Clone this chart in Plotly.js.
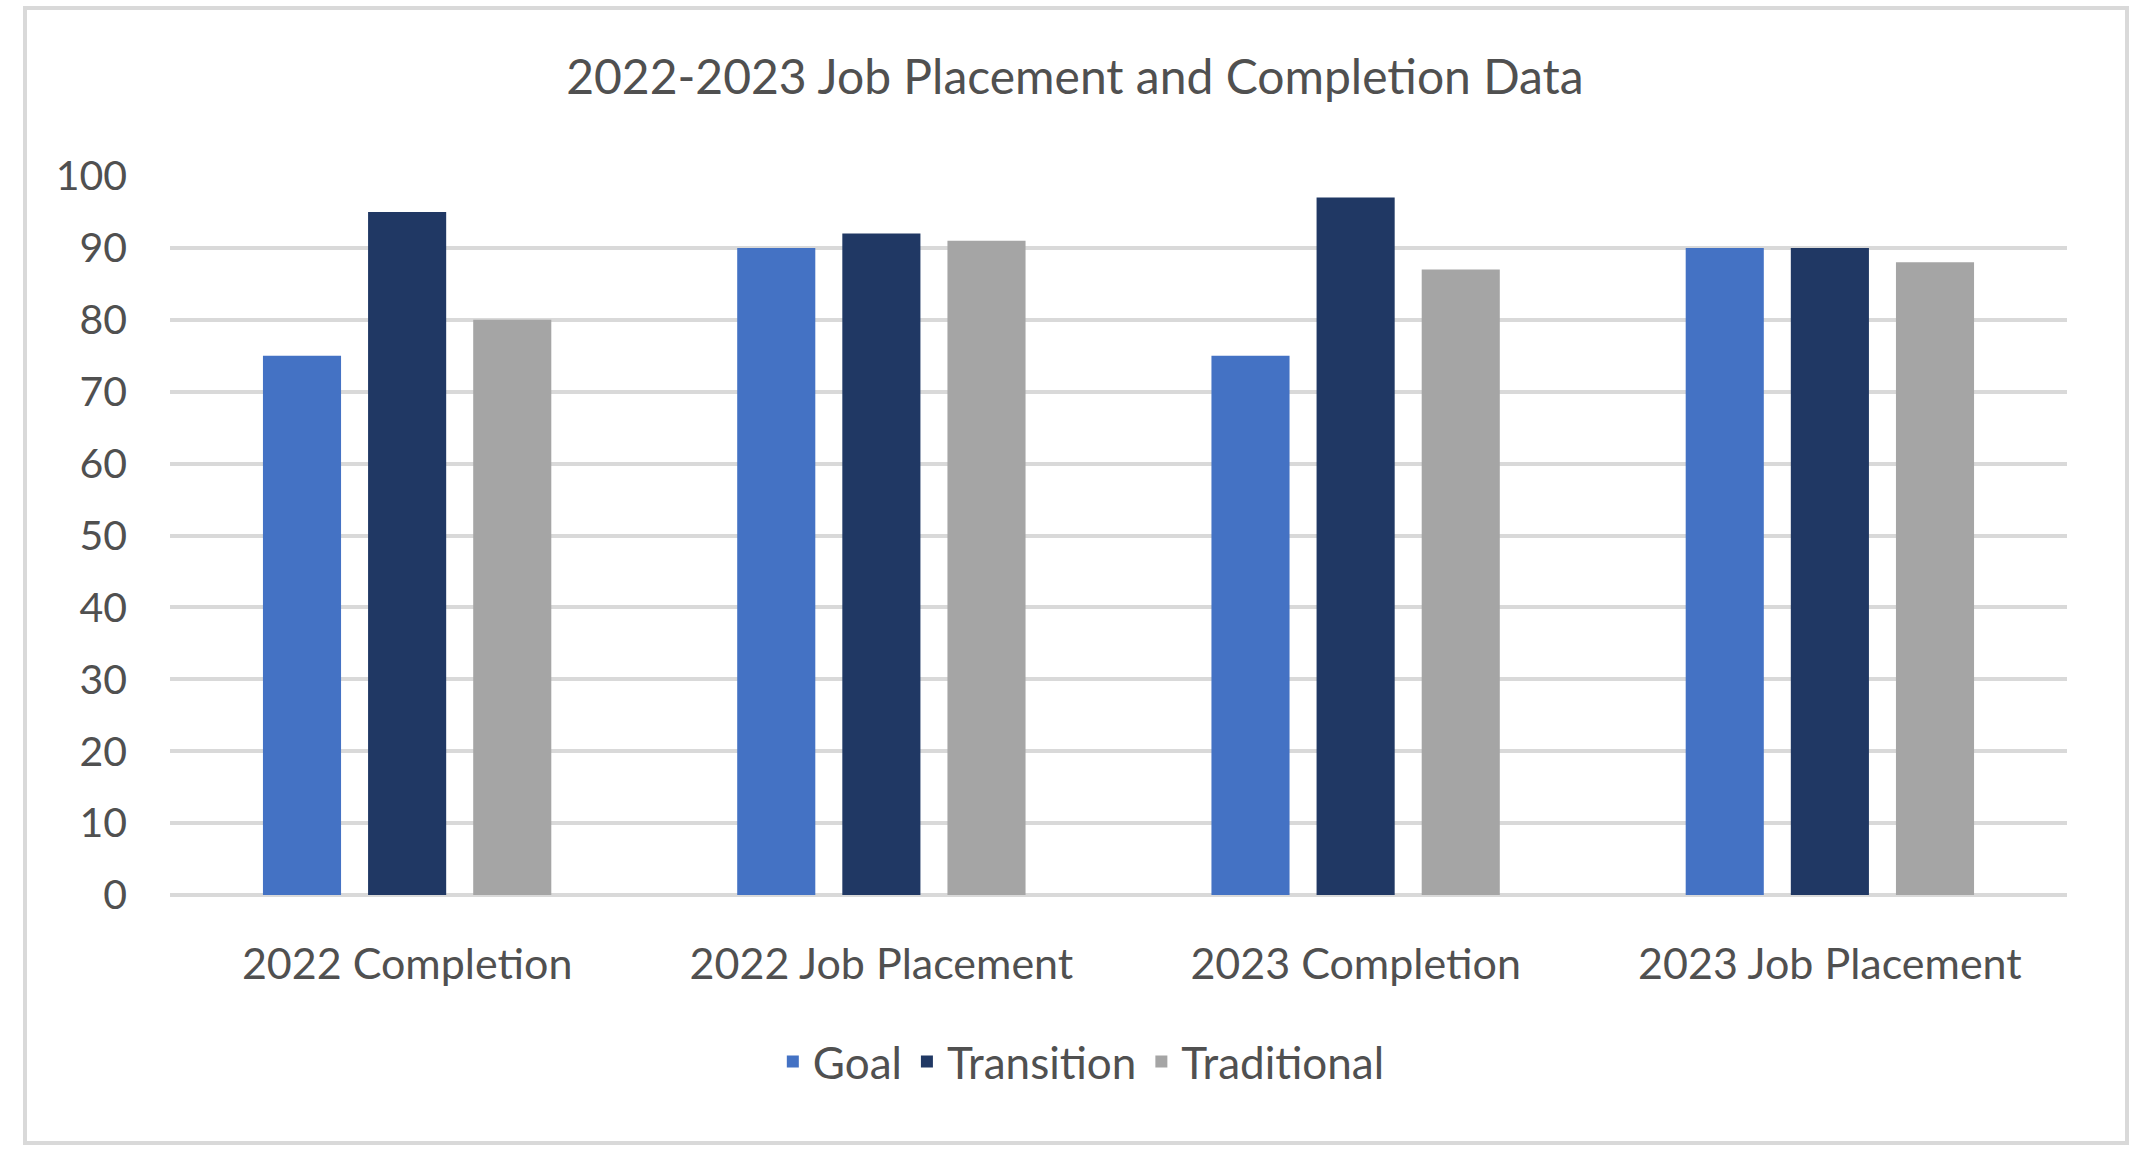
<!DOCTYPE html>
<html>
<head>
<meta charset="utf-8">
<script src="https://cdn.plot.ly/plotly-3.0.1.min.js"></script>
<style>
  html, body { margin: 0; padding: 0; background: #ffffff; overflow: hidden; }
  #chart { width: 2137px; height: 1153px; }
  #frame { position: absolute; left: 23px; top: 6px; width: 2106px; height: 1139px;
           border: 4px solid #d9d9d9; box-sizing: border-box; pointer-events: none; }
</style>
</head>
<body>
<div id="chart"></div>
<div id="frame"></div>
<script>
const categories = ["2022 Completion", "2022 Job Placement", "2023 Completion", "2023 Job Placement"];
const goalValues = [75, 90, 75, 90];
const transitionValues = [95, 92, 97, 90];
const traditionalValues = [80, 91, 87, 88];
const yTickValues = [0, 10, 20, 30, 40, 50, 60, 70, 80, 90, 100];

const FONT = "Lato, 'Open Sans', sans-serif";
const TEXT = "#505050";

const traces = [
  { type: "bar", name: "Goal", x: categories, y: goalValues, marker: { color: "#4472C4" } },
  { type: "bar", name: "Transition", x: categories, y: transitionValues, marker: { color: "#203864" } },
  { type: "bar", name: "Traditional", x: categories, y: traditionalValues, marker: { color: "#A5A5A5" } }
];

const layout = {
  width: 2137,
  height: 1153,
  paper_bgcolor: "#ffffff",
  plot_bgcolor: "#ffffff",
  margin: { l: 170, r: 70, t: 176, b: 258 },
  barmode: "group",
  bargap: 0.335,
  bargroupgap: 0.257,
  font: { family: FONT, color: TEXT },
  title: {
    text: "2022-2023 Job Placement and Completion Data",
    font: { family: FONT, size: 48, color: TEXT },
    x: 0.503, xanchor: "center", xref: "container",
    y: 1 - 77 / 1153, yanchor: "middle", yref: "container"
  },
  xaxis: {
    type: "category",
    showgrid: false,
    showline: false,
    zeroline: false,
    ticks: "",
    tickfont: { family: FONT, size: 43, color: TEXT },
    ticklabelstandoff: 40
  },
  yaxis: {
    range: [0, 100],
    tickvals: yTickValues,
    ticktext: yTickValues.map(String),
    showgrid: true,
    gridcolor: "#d9d9d9",
    gridwidth: 4,
    zeroline: true,
    zerolinecolor: "#d9d9d9",
    zerolinewidth: 4,
    showline: false,
    ticks: "",
    tickfont: { family: FONT, size: 41, color: TEXT },
    ticklabelstandoff: 42
  },
  showlegend: true,
  legend: {
    orientation: "h",
    xref: "container", yref: "container",
    x: 0.506, xanchor: "center",
    y: 1 - 1062 / 1153, yanchor: "middle",
    font: { family: FONT, size: 44, color: TEXT },
    itemclick: false
  }
};

Plotly.newPlot("chart", traces, layout, { displayModeBar: false, staticPlot: true });
</script>
</body>
</html>
